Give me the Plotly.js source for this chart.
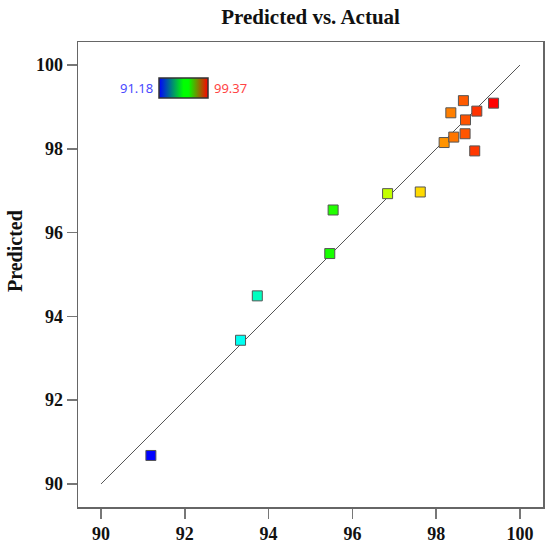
<!DOCTYPE html>
<html>
<head>
<meta charset="utf-8">
<script src="https://cdn.plot.ly/plotly-3.0.1.min.js"></script>
<style>html,body{margin:0;padding:0;background:#fff;}#chart{width:550px;height:550px;}</style>
</head>
<body>
<div id="chart"></div>
<script>
// Data
const actual = [91.19, 93.33, 93.73, 95.46, 95.54, 96.84, 97.62, 98.19, 98.42, 98.69, 98.70, 98.35, 98.65, 98.97, 98.92, 99.37];
const predicted = [90.68, 93.43, 94.49, 95.50, 96.54, 96.93, 96.97, 98.15, 98.28, 98.36, 98.69, 98.86, 99.15, 98.90, 97.95, 99.09];
const lineX = [90, 100];
const lineY = [90, 100];
const colorMin = 91.18;
const colorMax = 99.37;
const tickVals = [90, 92, 94, 96, 98, 100];

const pointScale = [[0, '#0000ff'], [0.25, '#00ffff'], [0.5, '#00ff00'], [0.75, '#ffff00'], [1, '#ff0000']];
const barScale = [[0, '#0000ff'], [0.5, '#00ff00'], [0.6, '#00ff00'], [1, '#ff0000']];

const serif = 'Liberation Serif, Times New Roman, serif';

const traces = [
  {
    x: lineX, y: lineY, type: 'scatter', mode: 'lines',
    line: {color: '#555555', width: 1}, hoverinfo: 'skip', showlegend: false
  },
  {
    x: actual, y: predicted, type: 'scatter', mode: 'markers',
    marker: {
      symbol: 'square', size: 10,
      color: actual, cmin: colorMin, cmax: colorMax, colorscale: pointScale,
      line: {color: '#555555', width: 1}
    },
    showlegend: false
  },
  {
    x: [null], y: [null], type: 'scatter', mode: 'markers', showlegend: false,
    marker: {
      color: [colorMin], cmin: colorMin, cmax: colorMax, colorscale: barScale,
      showscale: true,
      colorbar: {
        orientation: 'h', x: 0.174, y: 0.9226, xanchor: 'left', yanchor: 'top',
        len: 49, lenmode: 'pixels', thickness: 20, thicknessmode: 'pixels',
        xpad: 0, ypad: 0, showticklabels: false, ticks: '',
        outlinewidth: 1.5, outlinecolor: '#333333', borderwidth: 0
      }
    }
  }
];

const axisCommon = {
  range: [89.45, 100.55], tickvals: tickVals, ticks: 'outside', ticklen: 10,
  tickcolor: '#777777', tickwidth: 1.5, showline: true, linecolor: '#666666', linewidth: 1.5,
  mirror: true, showgrid: false, zeroline: false,
  tickfont: {family: serif, size: 18, color: '#111111', weight: 'bold'}
};

const layout = {
  width: 550, height: 550,
  margin: {l: 78, r: 7, t: 42, b: 43},
  paper_bgcolor: '#ffffff', plot_bgcolor: '#ffffff',
  title: {text: '<b>Predicted vs. Actual</b>', x: 0.5647, xanchor: 'center', y: 0.969, yanchor: 'middle',
          font: {family: serif, size: 21, color: '#111111'}},
  xaxis: Object.assign({}, axisCommon),
  yaxis: Object.assign({}, axisCommon),
  annotations: [
    {xref: 'paper', yref: 'paper', x: -0.1355, y: 0.5505, xanchor: 'center', yanchor: 'middle', textangle: -90,
     text: '<b>Predicted</b>', showarrow: false, font: {family: serif, size: 20, color: '#111111'}},
    {xref: 'paper', yref: 'paper', x: 0.166, y: 0.901, xanchor: 'right', yanchor: 'middle',
     text: String(colorMin), showarrow: false, font: {family: 'Noto Sans, sans-serif', size: 13, color: '#4a4aff'}},
    {xref: 'paper', yref: 'paper', x: 0.288, y: 0.901, xanchor: 'left', yanchor: 'middle',
     text: String(colorMax), showarrow: false, font: {family: 'Noto Sans, sans-serif', size: 13, color: '#ff4444'}}
  ]
};

Plotly.newPlot('chart', traces, layout, {displayModeBar: false, staticPlot: true});
</script>
</body>
</html>
